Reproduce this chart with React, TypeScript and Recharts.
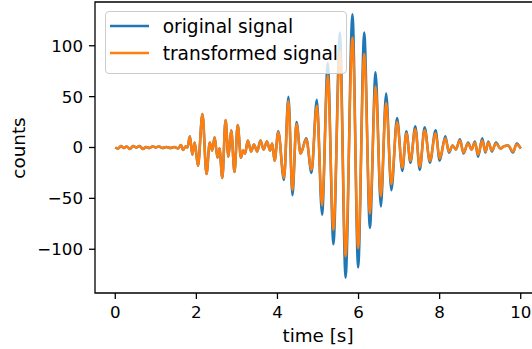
import { Label, Line, LineChart, ReferenceArea, XAxis, YAxis } from 'recharts';

// sample times (s) and the two signals at each turning point
const times = [
  0.0, 0.07, 0.14, 0.21, 0.28, 0.36, 0.44, 0.52, 0.6, 0.68,
  0.76, 0.84, 0.92, 1.0, 1.08, 1.16, 1.26, 1.36, 1.46, 1.55,
  1.62, 1.67, 1.73, 1.78, 1.84, 1.9, 1.96, 2.04, 2.15, 2.25,
  2.33, 2.39, 2.45, 2.52, 2.57, 2.64, 2.72, 2.79, 2.86, 2.94,
  3.02, 3.1, 3.15, 3.2, 3.27, 3.35, 3.42, 3.5, 3.58, 3.66,
  3.74, 3.82, 3.87, 3.93, 4.02, 4.16, 4.27, 4.37, 4.47, 4.57,
  4.71, 4.84, 4.97, 5.1, 5.24, 5.38, 5.54, 5.68, 5.85, 5.99,
  6.14, 6.28, 6.42, 6.55, 6.68, 6.81, 6.95, 7.08, 7.18, 7.28,
  7.4, 7.51, 7.63, 7.76, 7.9, 8.0, 8.14, 8.23, 8.32, 8.4,
  8.5, 8.59, 8.7, 8.79, 8.87, 8.95, 9.05, 9.13, 9.2, 9.29,
  9.39, 9.5, 9.58, 9.69, 9.81, 9.9, 10.0,
];

const originalSignal = [
  0, -1, 1.5, -0.5, 1, -1.5, 1.5, 0, 1.5, -1.5,
  0.5, -0.5, 1, 0, 1, -0.5, 0.5, -0.5, 0.5, -1,
  2.5, -2.5, 1, 0, 11, -7, 5, -18, 33, -26,
  5, -3, 10, -10, -1, -30, 27, -9, 17, -24,
  22, -10, -3, -6, 7, -4, 3, -4, 7, -2,
  6, -3, 4, -13, 16, -32, 50, -47, 25, -6,
  9, -25, 47, -66, 83, -95, 113, -128, 131, -118,
  113, -79, 74, -58, 53, -42, 29, -23, 16, -15,
  21, -22, 20, -15, 17, -13, 11, -5, 2, -2,
  8, -6, 5, -2, 6, -9, 9, -5, 6, -4,
  5, -1, 1, 2, -5, 4, -1,
];

const transformedSignal = [
  0, -1, 1.5, -0.5, 1, -1.5, 1.5, 0, 1.5, -1.5,
  0.5, -0.5, 1, 0, 1, -0.5, 0.5, -0.5, 0.5, -1,
  2.5, -2.5, 1, 0, 11, -7, 5, -18, 33, -26,
  5, -3, 10, -10, -1, -30, 27, -9, 17, -24,
  22, -10, -3, -6, 7, -4, 3, -4, 7, -2,
  6, -3, 4, -13, 15, -30, 46, -42, 23, -6,
  8, -22, 41, -57, 71, -81, 95, -107, 108, -99,
  92, -65, 60, -48, 44, -36, 25, -20, 14, -13,
  18, -19, 17, -13, 14, -11, 9, -4, 2, -2,
  7, -5, 4, -2, 5, -7, 7, -4, 5, -3,
  4, -1, 1, 2, -4, 3, -1,
];

const xTicks = [0, 2, 4, 6, 8, 10];
const yTicks = [-100, -50, 0, 50, 100];
const xDomain = [-0.5, 10.5];
const yDomain = [-143, 143];

const rows = times.map((t, i) => ({
  t,
  original: originalSignal[i],
  transformed: transformedSignal[i],
}));

const font = 'DejaVu Sans';
const tickStyle = { fill: '#000', fontSize: 16.67, fontFamily: font };
const fmt = (v: number) => (v < 0 ? '\u2212' + Math.abs(v) : String(v));

const legendItems = [
  { name: 'original signal', color: '#1f77b4' },
  { name: 'transformed signal', color: '#ff7f0e' },
];

export default function App() {
  return (
    <div
      style={{
        position: 'absolute',
        left: 0,
        top: 0,
        width: 532,
        height: 349,
        overflow: 'hidden',
        background: '#fff',
      }}
    >
      <LineChart width={545} height={349} data={rows} margin={{ top: 2, right: 4, bottom: 0, left: 0 }}>
        <XAxis
          dataKey="t"
          type="number"
          domain={xDomain}
          ticks={xTicks}
          height={56}
          tickSize={6}
          tickMargin={7}
          tick={tickStyle}
          tickLine={{ stroke: '#000', strokeWidth: 1.3 }}
          axisLine={false}
        >
          <Label
            content={() => (
              <text x={318} y={342} textAnchor="middle" fontSize={18.33} fontFamily={font} fill="#000">
                time [s]
              </text>
            )}
          />
        </XAxis>
        <YAxis
          type="number"
          domain={yDomain}
          ticks={yTicks}
          width={95}
          tickSize={6}
          tickMargin={6}
          tick={tickStyle}
          tickFormatter={fmt}
          tickLine={{ stroke: '#000', strokeWidth: 1.3 }}
          axisLine={false}
        >
          <Label
            content={() => (
              <text
                x={25}
                y={148}
                transform="rotate(-90 25 148)"
                textAnchor="middle"
                fontSize={18.33}
                fontFamily={font}
                fill="#000"
              >
                counts
              </text>
            )}
          />
        </YAxis>
        <Line
          type="monotone"
          dataKey="original"
          stroke="#1f77b4"
          strokeWidth={2.5}
          dot={false}
          isAnimationActive={false}
        />
        <Line
          type="monotone"
          dataKey="transformed"
          stroke="#ff7f0e"
          strokeWidth={2.5}
          dot={false}
          isAnimationActive={false}
        />
        {/* frame on all four sides, like the matplotlib spines */}
        <ReferenceArea
          x1={xDomain[0]}
          x2={xDomain[1]}
          y1={yDomain[0]}
          y2={yDomain[1]}
          fill="none"
          stroke="#000"
          strokeWidth={1.3}
          fillOpacity={0}
        />
      </LineChart>
      <div
        style={{
          position: 'absolute',
          left: 105,
          top: 10.5,
          width: 242,
          height: 63,
          boxSizing: 'border-box',
          background: 'rgba(255,255,255,0.8)',
          border: '1px solid #cccccc',
          borderRadius: 4,
          fontFamily: font,
          fontSize: 18.6,
          color: '#000',
        }}
      >
        {legendItems.map((item, idx) => (
          <div
            key={item.name}
            style={{
              position: 'absolute',
              left: 4,
              top: 3.5 + idx * 27.3,
              height: 22,
              display: 'flex',
              alignItems: 'center',
              whiteSpace: 'nowrap',
            }}
          >
            <svg width={39} height={6} style={{ display: 'block' }}>
              <line x1={0} x2={39} y1={3} y2={3} stroke={item.color} strokeWidth={2.5} />
            </svg>
            <span style={{ marginLeft: 13.7 }}>{item.name}</span>
          </div>
        ))}
      </div>
    </div>
  );
}
